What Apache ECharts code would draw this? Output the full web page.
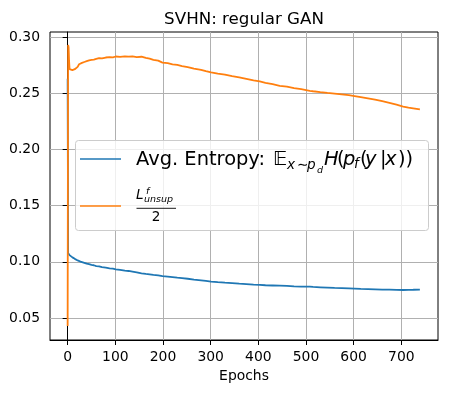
<!DOCTYPE html>
<html>
<head>
<meta charset="utf-8">
<script src="https://cdn.jsdelivr.net/npm/echarts@6/dist/echarts.min.js"></script>
<style>
html, body { margin: 0; padding: 0; background: #fff; }
#main { width: 451px; height: 393px; }
</style>
</head>
<body>
<div id="main"></div>
<script>
// values
var epochs = [0, 1, 2, 3, 4, 5, 6, 8, 10, 12, 15, 18, 21, 24, 27, 30, 35, 40, 45, 50,
    55, 60, 66, 72, 80, 88, 95, 101, 110, 120, 128, 136, 145, 155, 164, 172, 180, 190, 199, 210,
    220, 230, 240, 252, 265, 280, 290, 301, 315, 330, 345, 360, 375, 390, 403, 415, 430, 445, 460, 475,
    490, 508, 515, 530, 545, 560, 575, 590, 602, 615, 630, 645, 660, 675, 690, 704, 715, 725, 739];

var avgEntropy = [0.263, 0.108, 0.1072, 0.1066, 0.1060, 0.1058, 0.1052, 0.1046, 0.1040, 0.1034,
    0.1027, 0.1020, 0.1013, 0.1007, 0.1003, 0.0998, 0.0992, 0.0985, 0.0980, 0.0973,
    0.0970, 0.0963, 0.0960, 0.0953, 0.0949, 0.0943, 0.0939, 0.0934, 0.0929, 0.0922,
    0.0919, 0.0913, 0.0906, 0.0898, 0.0893, 0.0889, 0.0884, 0.0880, 0.0873, 0.0869,
    0.0864, 0.0859, 0.0855, 0.0850, 0.0843, 0.0836, 0.0831, 0.0825, 0.0820, 0.0815,
    0.0811, 0.0806, 0.0802, 0.0798, 0.0795, 0.0792, 0.0790, 0.0788, 0.0786, 0.0782,
    0.0780, 0.0779, 0.0777, 0.0774, 0.0771, 0.0768, 0.0766, 0.0764, 0.0762, 0.0760,
    0.0758, 0.0756, 0.0754, 0.0753, 0.0751, 0.0750, 0.0751, 0.0752, 0.0754];

var unsupHalf = [0.043, 0.293, 0.291, 0.279, 0.2715, 0.2705, 0.2718, 0.2712, 0.2706, 0.2722,
    0.2714, 0.2728, 0.2735, 0.2758, 0.2763, 0.2770, 0.2778, 0.2785, 0.2792, 0.2797,
    0.2800, 0.2806, 0.2812, 0.2810, 0.2818, 0.2822, 0.2819, 0.2827, 0.2824, 0.2829,
    0.2826, 0.2828, 0.2822, 0.2825, 0.2814, 0.2808, 0.2797, 0.2790, 0.2772, 0.2768,
    0.2757, 0.2752, 0.2742, 0.2733, 0.2720, 0.2708, 0.2696, 0.2686, 0.2675, 0.2666,
    0.2652, 0.2642, 0.2628, 0.2614, 0.2605, 0.2592, 0.2581, 0.2566, 0.2559, 0.2546,
    0.2536, 0.2522, 0.2518, 0.2510, 0.2503, 0.2497, 0.2490, 0.2483, 0.2475, 0.2466,
    0.2455, 0.2443, 0.2430, 0.2415, 0.2398, 0.2382, 0.2372, 0.2366, 0.2357];

var xTicks = [0, 100, 200, 300, 400, 500, 600, 700];
var yTicks = [0.05, 0.10, 0.15, 0.20, 0.25, 0.30];

var FONT = 'DejaVu Sans';

function pairs(xs, ys) {
    var out = [];
    for (var i = 0; i < xs.length; ++i) out.push([xs[i], ys[i]]);
    return out;
}

// one piece of the legend's math text, placed by its baseline
function mt(s, x, base, size, italic, align) {
    return {
        type: 'text', x: x, y: base - 0.3 * size, z: 102,
        style: {
            text: s, fill: '#000', fontFamily: FONT, fontSize: size,
            fontStyle: italic ? 'italic' : 'normal',
            align: align || 'left', verticalAlign: 'middle'
        }
    };
}

var chart = echarts.init(document.getElementById('main'));

var big = 19.44, sub = 13.6, sub2 = 9.5;
var legendParts = [
    { type: 'rect', z: 100, shape: { x: 75.5, y: 140.5, width: 353, height: 90, r: 3 },
      style: { fill: 'rgba(255,255,255,0.8)', stroke: '#cccccc', lineWidth: 1 } },
    { type: 'line', z: 101, shape: { x1: 80, y1: 159, x2: 121, y2: 159 },
      style: { stroke: '#1f77b4', lineWidth: 1.5 } },
    { type: 'line', z: 101, shape: { x1: 80, y1: 206, x2: 121, y2: 206 },
      style: { stroke: '#ff7f0e', lineWidth: 1.5 } },
    mt('Avg. Entropy: ', 136, 165.7, big),
    mt('\uD835\uDD3C', 273, 165.7, big),
    mt('x', 287, 170, sub, true),
    mt('\u223C', 297, 170, sub),
    mt('p', 307, 170, sub, true),
    mt('d', 317, 173, sub2, true),
    mt('H', 324, 165.7, big, true),
    mt('(', 337, 165.7, big),
    mt('p', 343, 165.7, big, true),
    mt('f', 354, 169, sub, true),
    mt('(', 360, 165.7, big),
    mt('y', 365, 165.7, big, true),
    mt('|', 380, 165.7, big),
    mt('x', 385, 165.7, big, true),
    mt('))', 398, 165.7, big),
    mt('L', 136, 200, sub, true),
    mt('f', 146, 194, sub2, true),
    mt('unsup', 144, 202.5, sub2, true),
    { type: 'line', z: 101, shape: { x1: 136.5, y1: 208.3, x2: 176, y2: 208.3 },
      style: { stroke: '#000', lineWidth: 0.9 } },
    mt('2', 156, 221.7, sub, false, 'center')
];

var option = {
    animation: false,
    backgroundColor: '#fff',
    title: {
        text: 'SVHN: regular GAN',
        left: 244, top: 11, padding: 0, textAlign: 'center',
        textStyle: { fontFamily: FONT, fontSize: 16.7, fontWeight: 'normal', color: '#000' }
    },
    grid: {
        left: 50, right: 13, top: 32, bottom: 53,
        show: true, borderColor: '#000', borderWidth: 1, backgroundColor: 'transparent'
    },
    xAxis: {
        type: 'value', min: -37, max: 777,
        name: 'Epochs', nameLocation: 'middle', nameGap: 29,
        nameTextStyle: { fontFamily: FONT, fontSize: 13.9, color: '#000' },
        axisLine: { show: true, onZero: false, lineStyle: { color: '#000', width: 1 } },
        axisTick: { show: true, length: 5, customValues: xTicks, lineStyle: { color: '#000', width: 1 } },
        axisLabel: { customValues: xTicks, margin: 10, fontFamily: FONT, fontSize: 13.9, color: '#000' },
        splitLine: { show: true, lineStyle: { color: '#b0b0b0', width: 1 } }
    },
    yAxis: {
        type: 'value', min: 0.0305, max: 0.3045,
        axisLine: { show: true, lineStyle: { color: '#000', width: 1 } },
        axisTick: { show: true, length: 5, customValues: yTicks, lineStyle: { color: '#000', width: 1 } },
        axisLabel: {
            customValues: yTicks, margin: 10, fontFamily: FONT, fontSize: 13.9, color: '#000',
            formatter: function (v) { return v.toFixed(2); }
        },
        splitLine: { show: true, lineStyle: { color: '#b0b0b0', width: 1 } }
    },
    series: [
        {
            name: 'Avg. Entropy', type: 'line', data: pairs(epochs, avgEntropy),
            showSymbol: false, lineStyle: { color: '#1f77b4', width: 1.8 }, z: 2
        },
        {
            name: 'L_unsup^f / 2', type: 'line', data: pairs(epochs, unsupHalf),
            showSymbol: false, lineStyle: { color: '#ff7f0e', width: 1.8 }, z: 3
        }
    ],
    graphic: legendParts
};

chart.setOption(option);
</script>
</body>
</html>
